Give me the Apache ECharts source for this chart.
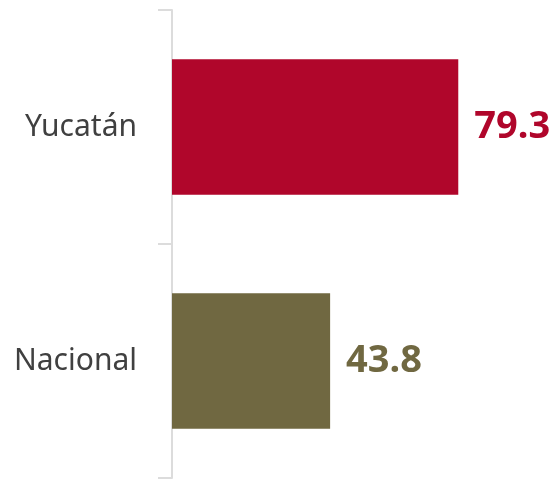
<!DOCTYPE html>
<html>
<head>
<meta charset="utf-8">
<script src="https://cdn.jsdelivr.net/npm/echarts@6/dist/echarts.min.js"></script>
<style>html,body{margin:0;padding:0;background:#fff;}#c{width:559px;height:479px;}</style>
</head>
<body>
<div id="c"></div>
<script>
const categories = ['Yucatán', 'Nacional'];
const values = [79.3, 43.8];
const barColors = ['#B0062B', '#706841'];

const chart = echarts.init(document.getElementById('c'), null, {renderer: 'canvas'});
chart.setOption({
  animation: false,
  backgroundColor: '#ffffff',
  grid: {left: 172, right: 26, top: 10, bottom: 1, containLabel: false},
  xAxis: {type: 'value', min: 0, max: 100, show: false},
  yAxis: {
    type: 'category',
    data: categories,
    inverse: true,
    axisLine: {show: true, lineStyle: {color: '#dcdcdc', width: 2}},
    axisTick: {show: true, length: 14, alignWithLabel: false, lineStyle: {color: '#dcdcdc', width: 2}},
    axisLabel: {margin: 35, color: '#404040', fontSize: 30, fontFamily: 'Noto Sans'},
    splitLine: {show: false}
  },
  series: [{
    type: 'bar',
    barWidth: '58%',
    data: values.map((v, i) => ({value: v, itemStyle: {color: barColors[i]}, label: {color: barColors[i]}})),
    label: {
      show: true,
      position: 'right',
      distance: 16,
      fontSize: 38,
      fontWeight: 'bold',
      fontFamily: 'Noto Sans',
      formatter: p => p.value.toFixed(1)
    }
  }]
});
</script>
</body>
</html>
